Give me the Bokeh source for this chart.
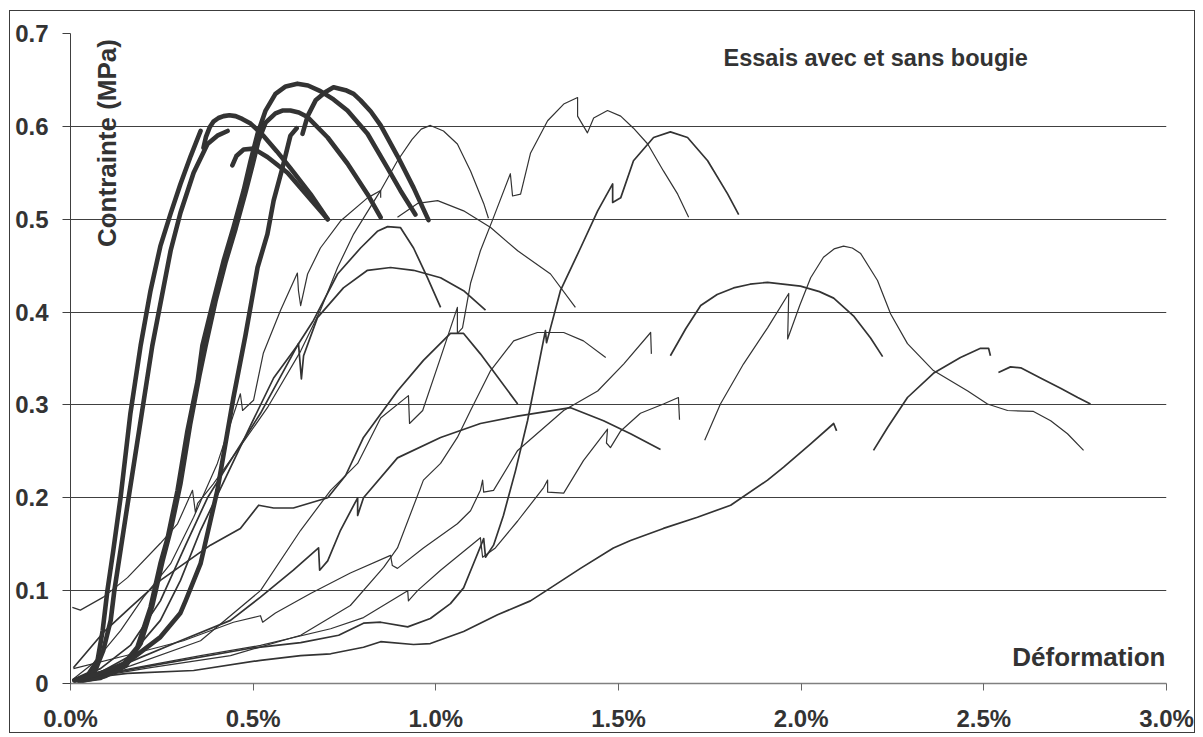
import math
from bokeh.plotting import figure
from bokeh.models import FixedTicker, Label, Range1d
from bokeh.embed import file_html
from bokeh.resources import INLINE

# ---------------- axis ticks ----------------
x_ticks = [0.0, 0.5, 1.0, 1.5, 2.0, 2.5, 3.0]
x_tick_labels = ["0.0%", "0.5%", "1.0%", "1.5%", "2.0%", "2.5%", "3.0%"]
y_ticks = [0.0, 0.1, 0.2, 0.3, 0.4, 0.5, 0.6, 0.7]
y_tick_labels = ["0", "0.1", "0.2", "0.3", "0.4", "0.5", "0.6", "0.7"]

# ---------------- thick curves (strain %, stress MPa) ----------------
t1a_x = [0.014, 0.049, 0.074, 0.088, 0.101, 0.117, 0.137, 0.164, 0.192, 0.219, 0.246, 0.274, 0.301, 0.329, 0.356]
t1a_y = [0.004, 0.010, 0.025, 0.057, 0.100, 0.143, 0.200, 0.291, 0.364, 0.423, 0.471, 0.506, 0.538, 0.568, 0.595]
t1b_x = [0.364, 0.371, 0.381, 0.391, 0.405, 0.419, 0.435, 0.452, 0.470, 0.493, 0.528, 0.565, 0.602, 0.657, 0.704]
t1b_y = [0.577, 0.589, 0.599, 0.605, 0.609, 0.611, 0.612, 0.611, 0.608, 0.603, 0.590, 0.573, 0.555, 0.527, 0.500]

t2a_x = [0.027, 0.068, 0.090, 0.110, 0.120, 0.159, 0.192, 0.224, 0.274, 0.301, 0.337, 0.375, 0.402, 0.430]
t2a_y = [0.003, 0.014, 0.036, 0.068, 0.100, 0.200, 0.283, 0.364, 0.466, 0.507, 0.550, 0.581, 0.590, 0.595]
t2b_x = [0.443, 0.454, 0.474, 0.501, 0.539, 0.594, 0.649, 0.704]
t2b_y = [0.558, 0.568, 0.575, 0.576, 0.567, 0.550, 0.525, 0.500]

t3_x = [0.022, 0.082, 0.137, 0.183, 0.219, 0.246, 0.266, 0.293, 0.320, 0.348, 0.361, 0.391, 0.419, 0.446,
        0.474, 0.493, 0.512, 0.534, 0.561, 0.589, 0.621, 0.650, 0.684, 0.720, 0.758, 0.813, 0.868, 0.903, 0.944]
t3_y = [0.003, 0.006, 0.017, 0.039, 0.082, 0.129, 0.157, 0.208, 0.272, 0.326, 0.364, 0.412, 0.455, 0.491,
        0.531, 0.563, 0.592, 0.617, 0.635, 0.643, 0.646, 0.644, 0.638, 0.629, 0.617, 0.592, 0.555, 0.531, 0.505]

t4_x = [0.033, 0.096, 0.151, 0.192, 0.224, 0.252, 0.274, 0.301, 0.328, 0.353, 0.370, 0.397, 0.424, 0.452,
        0.479, 0.498, 0.515, 0.534, 0.561, 0.580, 0.602, 0.625, 0.649, 0.704, 0.758, 0.813, 0.849]
t4_y = [0.003, 0.008, 0.019, 0.043, 0.084, 0.132, 0.165, 0.215, 0.280, 0.332, 0.364, 0.412, 0.453, 0.490,
        0.529, 0.558, 0.585, 0.604, 0.614, 0.617, 0.617, 0.615, 0.610, 0.588, 0.560, 0.527, 0.502]

t5a_x = [0.011, 0.082, 0.156, 0.246, 0.301, 0.315, 0.356, 0.402, 0.446, 0.479, 0.512, 0.539, 0.556, 0.580, 0.602, 0.619]
t5a_y = [0.003, 0.011, 0.023, 0.050, 0.076, 0.089, 0.129, 0.208, 0.308, 0.375, 0.448, 0.484, 0.520, 0.555, 0.590, 0.598]
t5b_x = [0.635, 0.649, 0.671, 0.698, 0.720, 0.753, 0.775, 0.794, 0.822, 0.849, 0.895, 0.939, 0.980]
t5b_y = [0.592, 0.611, 0.628, 0.637, 0.642, 0.639, 0.635, 0.628, 0.616, 0.601, 0.568, 0.534, 0.499]

# ---------------- thin curves (tests "sans bougie") ----------------
c1a_x = [0.005, 0.063, 0.137, 0.200, 0.274, 0.337, 0.402, 0.465, 0.471, 0.501, 0.528, 0.575, 0.621, 0.624,
         0.630, 0.649, 0.684, 0.739, 0.813, 0.849, 0.849]
c1a_y = [0.004, 0.022, 0.057, 0.093, 0.129, 0.179, 0.237, 0.312, 0.294, 0.305, 0.356, 0.402, 0.442, 0.423,
         0.407, 0.441, 0.469, 0.498, 0.523, 0.531, 0.523]
c1b_x = [0.895, 0.950, 1.005, 1.076, 1.150, 1.224, 1.314, 1.382]
c1b_y = [0.502, 0.517, 0.520, 0.509, 0.491, 0.466, 0.441, 0.405]

c2_x = [0.005, 0.027, 0.090, 0.156, 0.246, 0.293, 0.334, 0.342, 0.348, 0.391, 0.457, 0.539, 0.630, 0.684,
        0.731, 0.775, 0.849, 0.895, 0.935, 0.960, 0.985, 1.021, 1.059, 1.095, 1.131, 1.144]
c2_y = [0.082, 0.079, 0.093, 0.114, 0.151, 0.172, 0.208, 0.184, 0.194, 0.215, 0.251, 0.297, 0.358, 0.402,
        0.448, 0.484, 0.531, 0.563, 0.586, 0.597, 0.601, 0.595, 0.581, 0.552, 0.517, 0.501]

c3_x = [0.011, 0.082, 0.164, 0.246, 0.301, 0.356, 0.430, 0.493, 0.556, 0.621, 0.665, 0.731, 0.794, 0.840,
        0.868, 0.903, 0.939, 0.977, 1.013]
c3_y = [0.004, 0.012, 0.030, 0.068, 0.111, 0.165, 0.226, 0.278, 0.329, 0.364, 0.391, 0.441, 0.469, 0.487,
        0.492, 0.491, 0.469, 0.437, 0.405]

c4_x = [0.008, 0.082, 0.164, 0.246, 0.315, 0.375, 0.446, 0.520, 0.624, 0.632, 0.638, 0.676, 0.747, 0.813,
        0.876, 0.939, 1.013, 1.076, 1.136]
c4_y = [0.004, 0.016, 0.041, 0.089, 0.149, 0.200, 0.245, 0.291, 0.366, 0.328, 0.353, 0.394, 0.426, 0.445,
        0.448, 0.445, 0.437, 0.423, 0.402]

c5_x = [0.008, 0.090, 0.164, 0.246, 0.383, 0.465, 0.515, 0.556, 0.610, 0.704, 0.753, 0.802, 0.895, 0.966,
        1.040, 1.076, 1.122, 1.224]
c5_y = [0.017, 0.055, 0.082, 0.111, 0.149, 0.167, 0.192, 0.189, 0.189, 0.200, 0.224, 0.265, 0.315, 0.348,
        0.377, 0.377, 0.355, 0.301]

c6_x = [0.005, 0.137, 0.301, 0.438, 0.520, 0.610, 0.679, 0.682, 0.704, 0.739, 0.786, 0.786, 0.802, 0.895,
        1.013, 1.122, 1.224, 1.369, 1.459, 1.533, 1.615]
c6_y = [0.004, 0.019, 0.046, 0.068, 0.093, 0.122, 0.146, 0.122, 0.132, 0.165, 0.200, 0.181, 0.200, 0.243,
        0.265, 0.280, 0.288, 0.297, 0.283, 0.269, 0.252]

c7_x = [0.008, 0.172, 0.309, 0.446, 0.520, 0.526, 0.561, 0.657, 0.766, 0.876, 0.881, 0.895, 0.966, 1.059,
        1.095, 1.122, 1.128, 1.131, 1.158, 1.224, 1.350, 1.443, 1.514, 1.588, 1.590]
c7_y = [0.016, 0.032, 0.046, 0.066, 0.073, 0.066, 0.076, 0.097, 0.119, 0.138, 0.127, 0.124, 0.146, 0.172,
        0.186, 0.208, 0.219, 0.206, 0.208, 0.251, 0.294, 0.315, 0.344, 0.378, 0.355]

c8_x = [0.005, 0.219, 0.493, 0.630, 0.734, 0.802, 0.849, 0.923, 0.985, 1.040, 1.076, 1.103, 1.131, 1.136,
        1.158, 1.185, 1.218, 1.251, 1.300, 1.303, 1.314, 1.341, 1.396, 1.443, 1.484, 1.484, 1.506, 1.541,
        1.596, 1.642, 1.689, 1.744, 1.799, 1.829]
c8_y = [0.003, 0.019, 0.038, 0.044, 0.052, 0.065, 0.066, 0.061, 0.070, 0.086, 0.103, 0.129, 0.156, 0.136,
        0.149, 0.181, 0.229, 0.283, 0.380, 0.367, 0.383, 0.423, 0.469, 0.509, 0.538, 0.518, 0.523, 0.563,
        0.588, 0.594, 0.588, 0.563, 0.527, 0.505]

c9_x = [0.005, 0.164, 0.356, 0.520, 0.712, 0.802, 0.923, 0.925, 0.950, 1.013, 1.122, 1.128, 1.163, 1.224,
        1.295, 1.306, 1.306, 1.350, 1.404, 1.470, 1.467, 1.478, 1.506, 1.560, 1.623, 1.664, 1.667]
c9_y = [0.003, 0.016, 0.030, 0.041, 0.059, 0.071, 0.100, 0.089, 0.100, 0.122, 0.157, 0.136, 0.146, 0.175,
        0.211, 0.219, 0.206, 0.205, 0.240, 0.274, 0.259, 0.254, 0.272, 0.291, 0.301, 0.308, 0.284]

c10_x = [0.005, 0.164, 0.356, 0.520, 0.630, 0.712, 0.786, 0.849, 0.925, 0.928, 0.964, 1.013, 1.059, 1.059,
         1.073, 1.095, 1.122, 1.158, 1.204, 1.210, 1.232, 1.259, 1.306, 1.350, 1.388, 1.388, 1.415, 1.432,
         1.470, 1.506, 1.541, 1.580, 1.623, 1.662, 1.692]
c10_y = [0.003, 0.019, 0.046, 0.100, 0.165, 0.208, 0.237, 0.286, 0.310, 0.280, 0.294, 0.351, 0.405, 0.377,
         0.383, 0.431, 0.466, 0.502, 0.549, 0.525, 0.527, 0.571, 0.606, 0.624, 0.631, 0.611, 0.593, 0.609,
         0.617, 0.611, 0.598, 0.581, 0.552, 0.527, 0.502]

c11_x = [0.005, 0.219, 0.438, 0.630, 0.766, 0.857, 0.895, 0.966, 1.013, 1.059, 1.095, 1.150, 1.213, 1.278,
         1.350, 1.404, 1.465]
c11_y = [0.003, 0.017, 0.030, 0.052, 0.084, 0.125, 0.146, 0.219, 0.237, 0.265, 0.294, 0.337, 0.369, 0.378,
         0.378, 0.369, 0.351]

c12_x = [0.005, 0.156, 0.337, 0.520, 0.630, 0.712, 0.802, 0.849, 0.939, 0.985, 1.076, 1.169, 1.259, 1.314,
         1.396, 1.486, 1.533, 1.623, 1.716, 1.807, 1.908, 1.952, 2.026, 2.089, 2.097]
c12_y = [0.004, 0.011, 0.014, 0.025, 0.030, 0.032, 0.039, 0.045, 0.042, 0.043, 0.056, 0.074, 0.089, 0.103,
         0.124, 0.146, 0.154, 0.167, 0.179, 0.192, 0.219, 0.233, 0.258, 0.280, 0.272]

r1_x = [1.642, 1.684, 1.725, 1.770, 1.815, 1.860, 1.908, 1.998, 2.050, 2.089, 2.143, 2.190, 2.223]
r1_y = [0.353, 0.382, 0.407, 0.419, 0.426, 0.430, 0.432, 0.428, 0.422, 0.415, 0.396, 0.372, 0.352]

r2_x = [1.736, 1.779, 1.842, 1.908, 1.966, 1.963, 1.996, 2.026, 2.061, 2.090, 2.116, 2.140, 2.163, 2.209,
        2.245, 2.291, 2.362, 2.456, 2.510, 2.565, 2.636, 2.683, 2.729, 2.773]
r2_y = [0.262, 0.301, 0.344, 0.383, 0.420, 0.371, 0.407, 0.437, 0.459, 0.468, 0.471, 0.469, 0.463, 0.434,
        0.398, 0.366, 0.337, 0.315, 0.301, 0.294, 0.293, 0.283, 0.269, 0.251]

r3_x = [2.198, 2.237, 2.291, 2.362, 2.436, 2.491, 2.513, 2.518]
r3_y = [0.251, 0.276, 0.308, 0.334, 0.351, 0.361, 0.361, 0.353]

r4_x = [2.540, 2.573, 2.601, 2.655, 2.710, 2.757, 2.792]
r4_y = [0.335, 0.341, 0.340, 0.329, 0.318, 0.308, 0.301]

INK = "#333333"
FONT = "Liberation Sans"

p = figure(width=1186, height=723, x_range=Range1d(0, 3), y_range=Range1d(0, 0.7),
           output_backend="svg", toolbar_location=None,
           min_border_left=60, min_border_right=30, min_border_top=22, min_border_bottom=51)
p.styles = {"border": "1px solid #3c3c3c", "margin-left": "9px", "margin-top": "10px"}
p.outline_line_color = None
p.background_fill_color = "white"
p.border_fill_color = "white"

# axes
p.xaxis.ticker = FixedTicker(ticks=x_ticks)
p.xaxis.major_label_overrides = dict(zip(x_ticks, x_tick_labels))
p.yaxis.ticker = FixedTicker(ticks=y_ticks)
p.yaxis.major_label_overrides = dict(zip(y_ticks, y_tick_labels))
for ax in (p.xaxis[0], p.yaxis[0]):
    ax.major_label_text_font = FONT
    ax.major_label_text_font_style = "bold"
    ax.major_label_text_font_size = "24px"
    ax.major_label_text_color = INK
    ax.minor_tick_line_color = None
    ax.major_tick_in = 0
p.xaxis.major_tick_out = 7
p.xaxis.axis_line_color = "#808080"
p.xaxis.axis_line_width = 1.5
p.xaxis.major_tick_line_color = "#666666"
p.xaxis.major_label_standoff = 14
p.yaxis.major_tick_out = 8
p.yaxis.axis_line_color = "#404040"
p.yaxis.major_tick_line_color = "#404040"
p.yaxis.major_label_standoff = 14

p.xgrid.grid_line_color = None
p.ygrid.ticker = FixedTicker(ticks=y_ticks[1:])
p.ygrid.grid_line_color = "#404040"
p.ygrid.grid_line_width = 1

thick = [(t1a_x, t1a_y), (t1b_x, t1b_y), (t2a_x, t2a_y), (t2b_x, t2b_y), (t3_x, t3_y),
         (t4_x, t4_y), (t5a_x, t5a_y), (t5b_x, t5b_y)]
medium = [(c5_x, c5_y), (c6_x, c6_y), (c8_x, c8_y), (c12_x, c12_y), (r1_x, r1_y), (r3_x, r3_y), (r4_x, r4_y),
          (c4_x, c4_y), (c3_x, c3_y)]
thin = [(c1a_x, c1a_y), (c1b_x, c1b_y), (c2_x, c2_y), (c7_x, c7_y), (c9_x, c9_y), (c10_x, c10_y),
        (c11_x, c11_y), (r2_x, r2_y)]

for xs, ys in thin:
    p.line(xs, ys, line_color=INK, line_width=1.2, line_join="round")
for xs, ys in medium:
    p.line(xs, ys, line_color=INK, line_width=1.7, line_join="round")
for xs, ys in thick:
    p.line(xs, ys, line_color=INK, line_width=4.6, line_join="round", line_cap="round")

common = dict(text_font=FONT, text_font_style="bold", text_color=INK)
p.add_layout(Label(x=0.101, y=0.582, text="Contrainte (MPa)", angle=math.pi / 2,
                   text_align="center", text_baseline="middle", text_font_size="26px", **common))
p.add_layout(Label(x=2.204, y=0.674, text="Essais avec et sans bougie",
                   text_align="center", text_baseline="middle", text_font_size="23.5px", **common))
p.add_layout(Label(x=2.997, y=0.029, text="Déformation",
                   text_align="right", text_baseline="middle", text_font_size="26px", **common))

open("out.html", "w").write(file_html(p, INLINE))
